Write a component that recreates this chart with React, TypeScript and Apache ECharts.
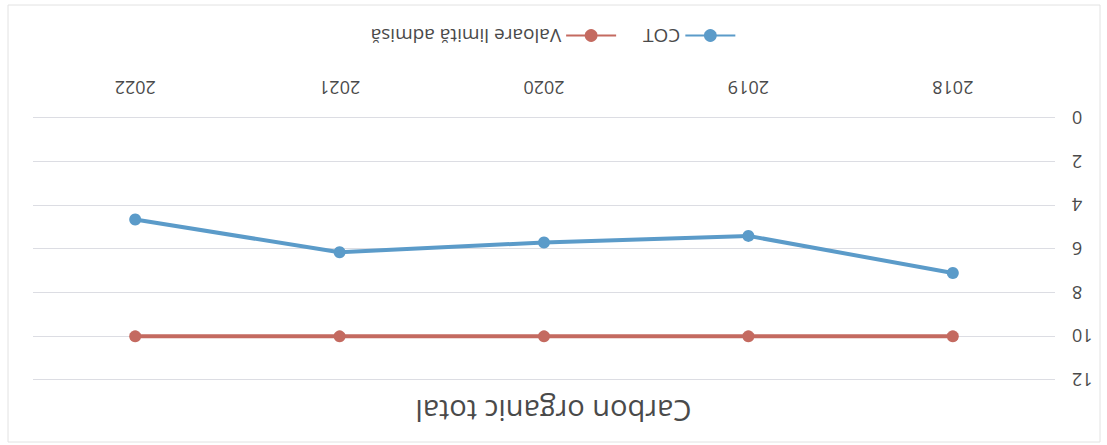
import React, { useEffect, useRef } from "react";
import * as echarts from "echarts";

const categories = ["2018", "2019", "2020", "2021", "2022"];
const cotValues = [7.1, 5.4, 5.7, 6.15, 4.65];
const limitValues = [10, 10, 10, 10, 10];
const seriesNames = ["COT", "Valoare limită admisă"];
const titleText = "Carbon organic total";

const FONT = "Open Sans";
const TEXT = "#4a4a4a";

export default function App() {
  const ref = useRef<HTMLDivElement>(null);
  useEffect(() => {
    if (!ref.current) return;
    const chart = echarts.init(ref.current, undefined, { renderer: "svg" });
    chart.setOption({
      animation: false,
      backgroundColor: "#ffffff",
      textStyle: { fontFamily: FONT },
      title: {
        text: titleText,
        left: "center",
        top: 14,
        textStyle: { fontFamily: FONT, fontSize: 29, fontWeight: "normal", color: TEXT },
      },
      legend: {
        data: seriesNames,
        left: "center",
        top: 395,
        itemWidth: 50,
        itemHeight: 16,
        itemGap: 26,
        textStyle: { fontFamily: FONT, fontSize: 19, color: TEXT },
      },
      grid: { left: 52, right: 33, top: 65, bottom: 118, containLabel: false },
      xAxis: {
        type: "category",
        data: categories,
        boundaryGap: true,
        axisLine: { show: false },
        axisTick: { show: false },
        axisLabel: { fontFamily: FONT, fontSize: 18, color: TEXT, margin: 21 },
        splitLine: { show: false },
      },
      yAxis: {
        type: "value",
        min: 0,
        max: 12,
        interval: 2,
        axisLine: { show: false },
        axisTick: { show: false },
        axisLabel: { fontFamily: FONT, fontSize: 18, color: TEXT, margin: 17 },
        splitLine: { lineStyle: { color: "#dcdde3", width: 1 } },
      },
      graphic: [
        {
          type: "rect",
          shape: { x: 7, y: 3, width: 1092, height: 437 },
          style: { fill: "none", stroke: "#e2e2e2", lineWidth: 1 },
          silent: true,
        },
      ],
      series: [
        {
          name: seriesNames[0],
          type: "line",
          data: cotValues,
          symbol: "circle",
          symbolSize: 12,
          lineStyle: { color: "#5b9bc9", width: 4 },
          itemStyle: { color: "#5b9bc9" },
        },
        {
          name: seriesNames[1],
          type: "line",
          data: limitValues,
          symbol: "circle",
          symbolSize: 12,
          lineStyle: { color: "#c46a60", width: 4 },
          itemStyle: { color: "#c46a60" },
        },
      ],
    });
    return () => chart.dispose();
  }, []);
  return (
    <div
      ref={ref}
      style={{
        position: "absolute",
        left: 0,
        top: 0,
        width: 1107,
        height: 445,
        transform: "rotate(180deg)",
      }}
    />
  );
}
